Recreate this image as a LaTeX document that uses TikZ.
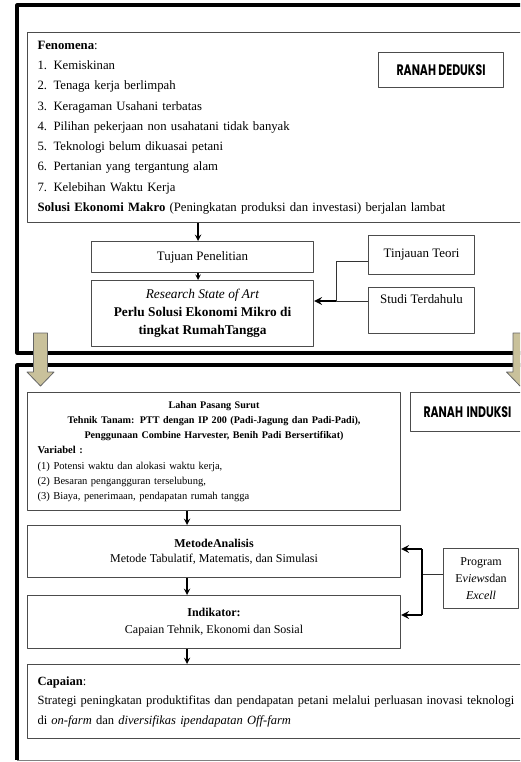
\documentclass[tikz,border=0pt]{standalone}
\usepackage{fontspec}
\setmainfont{Liberation Serif}
\newfontfamily\ranahfont{Poppins}
\usetikzlibrary{positioning,calc}
\begin{document}
\begin{tikzpicture}[x=0.75pt,y=-0.75pt,>=stealth,line join=round,
	box/.style={draw=black!70,line width=0.8pt,inner sep=0pt,anchor=north west,align=center},
	ranah/.style={box,font=\ranahfont\bfseries\fontsize{11.4}{13}\selectfont},
	frame/.style={line width=2.3pt},
	tan/.style={fill={rgb,255:red,201;green,193;blue,155},draw=black!60,line width=0.6pt},
	link/.style={line width=0.6pt,draw=black!80},
	flow/.style={->,line width=1.1pt},
	side/.style={->,line width=1.6pt}]
	\useasboundingbox (0,0) rectangle (520,762);
	\clip (0,0) rectangle (520,762);
	% two frames
	\draw[frame] (17,5) rectangle (545,353);
	\draw[frame] (545,365) -- (17,365) -- (17,760);
	\draw[black!50,line width=0.6pt] (17,760) -- (545,760);
	% ranah deduksi
	\node[box,minimum width=388.5pt,minimum height=142.5pt,text width=373.5pt,align=left,
		font=\fontsize{9.55}{15.2}\selectfont] (fen) at (27,32) {%
		\textbf{Fenomena}:\\
		\makebox[12pt][l]{1.}Kemiskinan\\
		\makebox[12pt][l]{2.}Tenaga kerja berlimpah\\
		\makebox[12pt][l]{3.}Keragaman Usahani terbatas\\
		\makebox[12pt][l]{4.}Pilihan pekerjaan non usahatani tidak banyak\\
		\makebox[12pt][l]{5.}Teknologi belum dikuasai petani\\
		\makebox[12pt][l]{6.}Pertanian yang tergantung alam\\
		\makebox[12pt][l]{7.}Kelebihan Waktu Kerja\\
		\textbf{Solusi Ekonomi Makro} (Peningkatan produksi dan investasi) berjalan lambat};
	\node[ranah,minimum width=93.75pt,minimum height=26.25pt] (deduksi) at (378,52) {\scalebox{0.72}[1]{RANAH DEDUKSI}};
	\node[box,minimum width=166.5pt,minimum height=23.25pt,font=\fontsize{9.7}{12}\selectfont] (tujuan) at (91,241) {Tujuan Penelitian};
	\node[box,minimum width=166.5pt,minimum height=49.5pt,font=\fontsize{10}{13.5}\selectfont] (research) at (91,280)
		{\textit{Research State of Art}\\\textbf{Perlu Solusi Ekonomi Mikro di}\\\textbf{tingkat RumahTangga}};
	\node[box,minimum width=79.5pt,minimum height=29.25pt,font=\fontsize{9.7}{12}\selectfont] (tinjauan) at (368,235) {Tinjauan Teori};
	\node[box,minimum width=79.5pt,minimum height=34.5pt,font=\fontsize{9.7}{13}\selectfont] (studi) at (368,287) {Studi Terdahulu\\\strut};
	\coordinate (jt) at (336,261);
	\coordinate (jr) at (336,301);
	\draw[flow] (fen.south -| 198,0) -- (tujuan.north -| 198,0);
	\draw[->,line width=0.8pt] (tujuan.south -| 198,0) -- (research.north -| 198,0);
	\draw[link] (tinjauan.west |- jt) -- (jt) -- (jr) -- (studi.west |- jr);
	\draw[side] (jr) -- (research.east |- jr);
	% tan arrows
	\foreach \c in {40.5,520}
		\draw[tan] (\c-7,333) -- (\c+7,333) -- (\c+7,372) -- (\c+13.5,372) -- (\c,386)
			-- (\c-13.5,372) -- (\c-7,372) -- cycle;
	% ranah induksi
	\node[box,minimum width=279.75pt,minimum height=88.5pt,text width=264.75pt,align=left,
		font=\fontsize{7.9}{11.4}\selectfont] (lahan) at (27,392) {%
		{\centering\bfseries\fontsize{7.6}{11.4}\selectfont Lahan Pasang Surut\\
		Tehnik Tanam: PTT dengan IP 200 (Padi-Jagung dan Padi-Padi),\\
		Penggunaan Combine Harvester, Benih Padi Bersertifikat)\par}
		\textbf{Variabel :}\\
		\makebox[12pt][l]{(1)}Potensi waktu dan alokasi waktu kerja,\\
		\makebox[12pt][l]{(2)}Besaran pengangguran terselubung,\\
		(3) Biaya, penerimaan, pendapatan rumah tangga};
	\node[ranah,minimum width=101.25pt,minimum height=29.25pt,text width=81.75pt,align=left] (induksi) at (410,392) {\scalebox{0.72}[1]{RANAH INDUKSI}};
	\node[box,minimum width=279.75pt,minimum height=39pt,font=\fontsize{9}{11.5}\selectfont] (metode) at (27,525)
		{\textbf{MetodeAnalisis}\\Metode Tabulatif, Matematis, dan Simulasi};
	\node[box,minimum width=279.75pt,minimum height=39.75pt,font=\fontsize{9}{12.5}\selectfont] (indikator) at (27,595)
		{\textbf{Indikator:}\\Capaian Tehnik, Ekonomi dan Sosial};
	\node[box,minimum width=56.25pt,minimum height=45pt,font=\fontsize{9}{12.5}\selectfont] (program) at (443,548)
		{Program\\E\textit{views}dan\\\textit{Excell}};
	\node[box,minimum height=55.5pt,inner xsep=7.5pt,text width=420pt,align=left,
		font=\fontsize{9.4}{14.6}\selectfont] (capaian) at (27,664) {%
		\textbf{Capaian}:\\
		Strategi peningkatan produktifitas dan pendapatan petani melalui perluasan inovasi teknologi\\
		di \textit{on-farm} dan \textit{diversifikas ipendapatan Off-farm}};
	\coordinate (xa) at (187,0);
	\coordinate (jp) at (422,574);
	\coordinate (jm) at (422,549);
	\coordinate (ji) at (422,615);
	\draw[flow] (lahan.south -| xa) -- (metode.north -| xa);
	\draw[flow] (metode.south -| xa) -- (indikator.north -| xa);
	\draw[flow] (indikator.south -| xa) -- (capaian.north -| xa);
	\draw[link] (program.west |- jp) -- (jp);
	\draw[line width=1.4pt] (jm) -- (ji);
	\draw[side] (jm) -- (metode.east |- jm);
	\draw[side] (ji) -- (indikator.east |- ji);
\end{tikzpicture}
\end{document}
